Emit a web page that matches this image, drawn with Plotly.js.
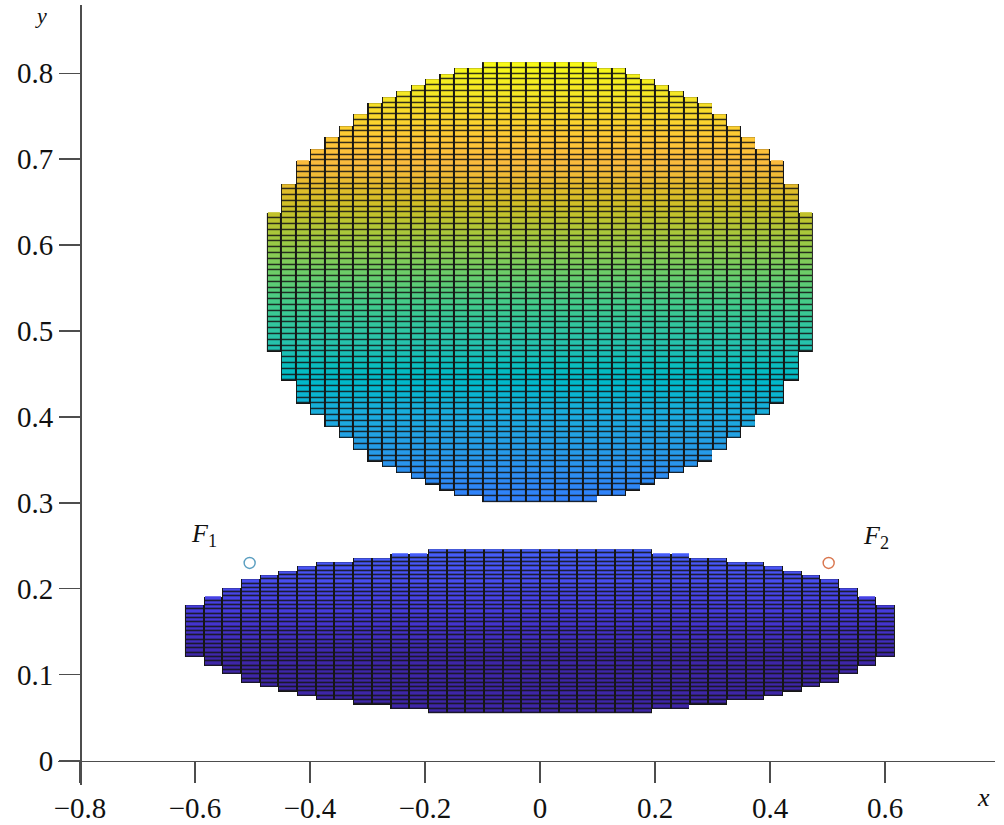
<!DOCTYPE html>
<html><head><meta charset="utf-8">
<script src="https://cdn.plot.ly/plotly-3.0.1.min.js"></script>
<style>html,body{margin:0;padding:0;background:#fff;}#chart{width:1004px;height:825px;}</style>
</head><body><div id="chart"></div>
<script>
// ---------- DATA ----------
// Upper pixelated ellipse: column centres, top and bottom of each column
const upperColX = [-0.4625,-0.4375,-0.4125,-0.3875,-0.3625,-0.3375,-0.3125,-0.2875,-0.2625,-0.2375,
  -0.2125,-0.1875,-0.1625,-0.1375,-0.1125,-0.0875,-0.0625,-0.0375,-0.0125,0.0125,
  0.0375,0.0625,0.0875,0.1125,0.1375,0.1625,0.1875,0.2125,0.2375,0.2625,
  0.2875,0.3125,0.3375,0.3625,0.3875,0.4125,0.4375,0.4625];
const upperTop = [0.638,0.671,0.697,0.711,0.727,0.741,0.754,0.768,0.775,0.781,
  0.787,0.794,0.800,0.807,0.807,0.813,0.813,0.813,0.813,0.813,
  0.813,0.813,0.813,0.807,0.807,0.800,0.794,0.787,0.781,0.775,
  0.768,0.754,0.741,0.727,0.711,0.697,0.671,0.638];
const upperBottom = [0.477,0.444,0.417,0.403,0.387,0.374,0.361,0.348,0.341,0.334,
  0.328,0.321,0.314,0.307,0.307,0.301,0.301,0.301,0.301,0.301,
  0.301,0.301,0.301,0.307,0.307,0.314,0.321,0.328,0.334,0.341,
  0.348,0.361,0.374,0.387,0.403,0.417,0.444,0.477];
const upperRows = 76;

// Lower pixelated ellipse
const lowerColX = [-0.60125,-0.56875,-0.53625,-0.50375,-0.47125,-0.43875,-0.40625,-0.37375,-0.34125,-0.30875,
  -0.27625,-0.24375,-0.21125,-0.17875,-0.14625,-0.11375,-0.08125,-0.04875,-0.01625,0.01625,
  0.04875,0.08125,0.11375,0.14625,0.17875,0.21125,0.24375,0.27625,0.30875,0.34125,
  0.37375,0.40625,0.43875,0.47125,0.50375,0.53625,0.56875,0.60125];
const lowerTop = [0.180,0.191,0.201,0.211,0.216,0.221,0.226,0.231,0.231,0.236,
  0.236,0.241,0.241,0.246,0.246,0.246,0.246,0.246,0.246,0.246,
  0.246,0.246,0.246,0.246,0.246,0.241,0.241,0.236,0.236,0.231,
  0.231,0.226,0.221,0.216,0.211,0.201,0.191,0.180];
const lowerBottom = [0.120,0.110,0.100,0.090,0.085,0.080,0.075,0.070,0.070,0.065,
  0.065,0.060,0.060,0.055,0.055,0.055,0.055,0.055,0.055,0.055,
  0.055,0.055,0.055,0.055,0.055,0.060,0.060,0.065,0.065,0.070,
  0.070,0.075,0.080,0.085,0.090,0.100,0.110,0.120];
const lowerRows = 38;

// Foci
const fociLabel = ['<i>F</i><sub>1</sub>', '<i>F</i><sub>2</sub>'];
const fociX = [-0.505, 0.502];
const fociY = [0.230, 0.230];
const fociLabelX = [-0.585, 0.585];
const fociLabelY = [0.262, 0.260];

// Ticks
const xTickVals = [-0.8,-0.6,-0.4,-0.2,0,0.2,0.4,0.6];
const xTickText = ['\u22120.8','\u22120.6','\u22120.4','\u22120.2','0','0.2','0.4','0.6'];
const yTickVals = [0,0.1,0.2,0.3,0.4,0.5,0.6,0.7,0.8];
const yTickText = ['0','0.1','0.2','0.3','0.4','0.5','0.6','0.7','0.8'];

// ---------- STYLE ----------
const parulaRGB = [
[0.2422,0.1504,0.6603],[0.2504,0.1650,0.7076],[0.2578,0.1818,0.7511],[0.2647,0.1978,0.7952],
[0.2706,0.2147,0.8364],[0.2751,0.2342,0.8710],[0.2783,0.2559,0.8991],[0.2803,0.2782,0.9221],
[0.2813,0.3006,0.9414],[0.2810,0.3228,0.9579],[0.2795,0.3447,0.9717],[0.2760,0.3667,0.9829],
[0.2699,0.3892,0.9906],[0.2602,0.4123,0.9952],[0.2440,0.4358,0.9988],[0.2206,0.4603,0.9973],
[0.1963,0.4847,0.9892],[0.1834,0.5074,0.9798],[0.1786,0.5289,0.9682],[0.1764,0.5499,0.9520],
[0.1687,0.5703,0.9359],[0.1540,0.5902,0.9218],[0.1460,0.6091,0.9079],[0.1380,0.6276,0.8973],
[0.1248,0.6459,0.8883],[0.1113,0.6635,0.8763],[0.0952,0.6798,0.8598],[0.0689,0.6948,0.8394],
[0.0297,0.7082,0.8163],[0.0036,0.7203,0.7917],[0.0067,0.7312,0.7660],[0.0433,0.7411,0.7394],
[0.0964,0.7500,0.7120],[0.1408,0.7584,0.6842],[0.1717,0.7670,0.6554],[0.1938,0.7758,0.6251],
[0.2161,0.7843,0.5923],[0.2470,0.7918,0.5567],[0.2906,0.7973,0.5188],[0.3406,0.8008,0.4789],
[0.3909,0.8029,0.4354],[0.4456,0.8024,0.3909],[0.5044,0.7993,0.3480],[0.5616,0.7942,0.3045],
[0.6174,0.7876,0.2612],[0.6720,0.7793,0.2227],[0.7242,0.7698,0.1910],[0.7738,0.7598,0.1646],
[0.8203,0.7498,0.1535],[0.8634,0.7406,0.1596],[0.9035,0.7330,0.1774],[0.9393,0.7288,0.2100],
[0.9728,0.7298,0.2394],[0.9956,0.7434,0.2371],[0.9970,0.7659,0.2199],[0.9952,0.7893,0.2028],
[0.9892,0.8136,0.1885],[0.9786,0.8386,0.1766],[0.9676,0.8639,0.1643],[0.9610,0.8890,0.1537],
[0.9597,0.9135,0.1423],[0.9628,0.9373,0.1265],[0.9691,0.9606,0.1064],[0.9769,0.9839,0.0805]];
const parula = parulaRGB.map((c,i)=>[i/(parulaRGB.length-1),
  'rgb('+Math.round(c[0]*255)+','+Math.round(c[1]*255)+','+Math.round(c[2]*255)+')']);
const colourMin = 0.12, colourMax = 0.813;

function buildGrid(top, bottom, nRows){
  const y0 = Math.min(...bottom), y1 = Math.max(...top);
  const h = (y1 - y0) / nRows;
  const rowY = [];
  for (let k = 0; k < nRows; k++) rowY.push(y0 + (k + 0.5) * h);
  const zc = [], zb = [];
  for (let k = 0; k < nRows; k++) {
    const rc = [], rb = [];
    for (let i = 0; i < top.length; i++) {
      const inside = rowY[k] > bottom[i] && rowY[k] < top[i];
      rc.push(inside ? rowY[k] : null);
      rb.push(inside ? 1 : null);
    }
    zc.push(rc); zb.push(rb);
  }
  return {rowY, zc, zb};
}
const gU = buildGrid(upperTop, upperBottom, upperRows);
const gL = buildGrid(lowerTop, lowerBottom, lowerRows);

const edgeCol = [[0,'#161616'],[1,'#161616']];
function underlay(colX, g){
  return {type:'heatmap', x:colX, y:g.rowY, z:g.zb, colorscale:edgeCol, showscale:false,
          zmin:0, zmax:1, hoverinfo:'skip'};
}
function cells(colX, g, yg){
  return {type:'heatmap', x:colX, y:g.rowY, z:g.zc, colorscale:parula, zmin:colourMin, zmax:colourMax,
          showscale:false, xgap:2, ygap:yg, hoverinfo:'skip'};
}

const traces = [
  underlay(upperColX, gU), cells(upperColX, gU, 1.3),
  underlay(lowerColX, gL), cells(lowerColX, gL, 1.4),
  {type:'scatter', mode:'markers', x:fociX, y:fociY, hoverinfo:'skip',
   marker:{symbol:'circle-open', size:11, color:['#5a9ec0','#d9764e'], line:{width:1.4}}}
];

const axCol = '#4d4d4d';
const serif = '"Liberation Serif", "Times New Roman", serif';
const tickFont = {family:serif, size:29, color:'#111'};
const xMin = -0.8383, xMax = 0.7913, yMin = -0.0285, yMax = 0.8795;

const annotations = [
  {xref:'paper', yref:'paper', x:(41-58)/937, y:(785-16)/780, xanchor:'center', yanchor:'middle',
   text:'<i>y</i>', showarrow:false, font:{family:serif, size:22, color:'#111'}},
  {xref:'paper', yref:'paper', x:(983-58)/937, y:(785-797)/780, xanchor:'center', yanchor:'middle',
   text:'<i>x</i>', showarrow:false, font:{family:serif, size:26, color:'#111'}}
];
for (let i = 0; i < fociLabel.length; i++) {
  annotations.push({xref:'x', yref:'y', x:fociLabelX[i], y:fociLabelY[i], text:fociLabel[i],
    xanchor:'center', yanchor:'middle',
    showarrow:false, font:{family:serif, size:26, color:'#111'}});
}

const layout = {
  width:1004, height:825,
  margin:{l:58, r:9, t:5, b:40, pad:0},
  paper_bgcolor:'#fff', plot_bgcolor:'#fff',
  showlegend:false,
  xaxis:{range:[xMin,xMax], anchor:'free', position:(0-yMin)/(yMax-yMin),
    showline:true, linecolor:axCol, linewidth:1.7, ticks:'outside', ticklen:21, tickwidth:1.5,
    tickcolor:axCol, tickvals:xTickVals, ticktext:xTickText, showgrid:false, zeroline:false,
    tickfont:tickFont, fixedrange:true},
  yaxis:{range:[yMin,yMax], anchor:'free', position:(-0.8-xMin)/(xMax-xMin),
    showline:true, linecolor:axCol, linewidth:1.7, ticks:'outside', ticklen:21, tickwidth:1.5,
    tickcolor:axCol, tickvals:yTickVals, ticktext:yTickText, showgrid:false, zeroline:false,
    tickfont:tickFont, fixedrange:true},
  annotations:annotations
};
Plotly.newPlot('chart', traces, layout, {displayModeBar:false, staticPlot:true});
</script></body></html>
